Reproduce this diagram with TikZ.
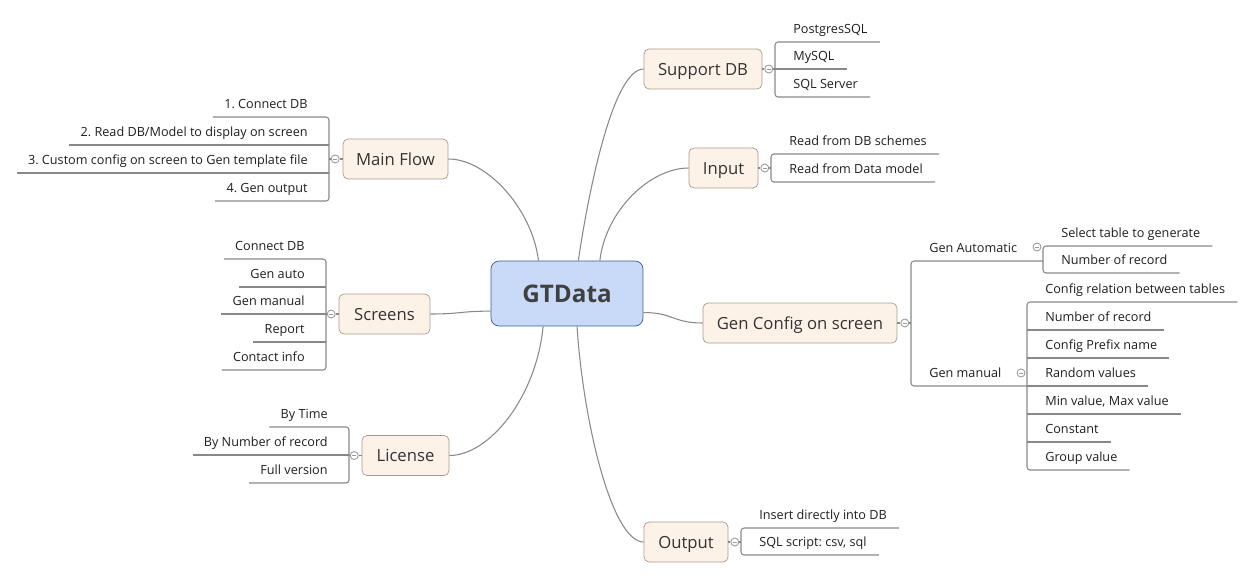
\documentclass[tikz,border=0pt]{standalone}
\usepackage{fontspec}
\setmainfont{Open Sans}
\usetikzlibrary{positioning}

\definecolor{linegray}{HTML}{888888}
\definecolor{foldgray}{HTML}{9A9A9A}
\definecolor{corefill}{HTML}{C9DAF8}
\definecolor{coreline}{HTML}{3D5A8A}
\definecolor{coretext}{HTML}{404040}
\definecolor{topicfill}{HTML}{FDF2E8}
\definecolor{topicline}{HTML}{A89B8E}
\definecolor{topictext}{HTML}{333333}
\definecolor{leaftext}{HTML}{1E1E1E}

\newcommand{\leaffont}{\fontsize{7.2}{8.6}\selectfont}
\frenchspacing

\begin{document}
\begin{tikzpicture}[x=0.02cm, y=-0.02cm]
      \tikzset{
        core/.style={draw=coreline, fill=corefill, rounded corners=0.16cm,
          minimum width=3.04cm, minimum height=1.3cm, text=coretext,
          text height=0.4cm, text depth=0.04cm,
          font=\fontsize{13.8}{16}\selectfont\bfseries},
        topic/.style={draw=topicline, fill=topicfill, rounded corners=0.1cm,
          minimum height=0.8cm, inner xsep=0.2cm, text=topictext,
          text height=0.3cm, text depth=0.06cm,
          font=\fontsize{9.5}{11}\selectfont},
        fold/.style={circle, draw=foldgray, fill=white, minimum size=0.16cm,
          inner sep=0pt, line width=0.5pt,
          path picture={\draw[foldgray, line width=0.5pt]
            ([xshift=0.045cm]path picture bounding box.west) --
            ([xshift=-0.045cm]path picture bounding box.east);}},
        rleaf/.style={anchor=south west, inner xsep=0.24cm, inner ysep=0pt,
          text height=0.2cm, text depth=0.17cm, text=leaftext, font=\leaffont,
          execute at begin node=\hspace*{0.12cm}},
        lleaf/.style={anchor=south east, inner xsep=0.22cm, inner ysep=0pt,
          text height=0.2cm, text depth=0.17cm, text=leaftext, font=\leaffont,
          execute at end node=\hspace*{0.2cm}},
        branch/.style={draw=linegray, line width=0.6pt},
        bracket/.style={branch, rounded corners=0.06cm},
      }
      \useasboundingbox (0,0) rectangle (1256,578);

      % centre and main topics
      \node[core] (gt) at (567,293.5) {GTData};
      \node[topic, minimum width=2.36cm] (sdb) at (703,69) {Support DB};
      \node[topic, minimum width=1.38cm] (inp) at (723.5,168) {Input};
      \node[topic, minimum width=3.88cm] (cfg) at (800,323) {Gen Config on screen};
      \node[topic, minimum width=1.68cm] (out) at (686,542) {Output};
      \node[topic, minimum width=2.1cm] (flow) at (395.5,159) {Main Flow};
      \node[topic, minimum width=1.82cm] (scr) at (384.5,314) {Screens};
      \node[topic, minimum width=1.74cm] (lic) at (405.5,455.5) {License};

      \draw[branch]
        (gt.71) .. controls +(12,-81) and +(-29,0) .. (sdb.west)
        (gt.45) .. controls +(6,-51) and +(-38,0) .. (inp.west)
        (gt.346) .. controls +(30,0) and +(-30,0) .. (cfg.west)
        (gt.287) .. controls +(6,94) and +(-32,0) .. (out.west)
        (gt.131) .. controls +(-6,-51) and +(39,0) .. (flow.east)
        (gt.193) .. controls +(-30,0) and +(30,0) .. (scr.east)
        (gt.234) .. controls +(-7,71) and +(40,0) .. (lic.east);

      % Support DB
      \node[fold, right=0.04cm of sdb] (fsdb) {};
      \node[rleaf] (pg) at (775,42) {PostgresSQL};
      \node[rleaf] (my) at (775,69) {MySQL};
      \node[rleaf] (ss) at (775,97) {SQL Server};
      \draw[branch] (sdb) -- (fsdb);
      \draw[bracket] (pg.south east) -- (pg.south west) -- (ss.south west) -- (ss.south east);
      \draw[branch] (fsdb) -- (my.south west) -- (my.south east);

      % Input
      \node[fold, right=0.04cm of inp] (finp) {};
      \node[rleaf] (rdb) at (771,154) {Read from DB schemes};
      \node[rleaf] (rdm) at (771,182) {Read from Data model};
      \draw[branch] (inp) -- (finp);
      \draw[bracket] (rdb.south east) -- (rdb.south west) -- (rdm.south west) -- (rdm.south east);
      \draw[branch] (finp) -- (finp -| rdb.south west);

      % Gen Config on screen
      \node[fold, right=0.06cm of cfg] (fcfg) {};
      \node[rleaf] (gauto) at (911,261) {Gen Automatic};
      \node[rleaf] (gman) at (911,386) {Gen manual};
      \node[fold] (fauto) at (1037,247) {};
      \node[fold] (fman) at (1021,373) {};
      \node[rleaf] (sel) at (1043,246) {Select table to generate};
      \node[rleaf] (anum) at (1043,273) {Number of record};
      \node[rleaf] (rel) at (1027,302) {Config relation between tables};
      \node[rleaf] (mnum) at (1027,330) {Number of record};
      \node[rleaf] (pre) at (1027,358) {Config Prefix name};
      \node[rleaf] (rnd) at (1027,386) {Random values};
      \node[rleaf] (mm) at (1027,414) {Min value, Max value};
      \node[rleaf] (con) at (1027,442) {Constant};
      \node[rleaf] (grp) at (1027,470) {Group value};
      \draw[branch] (cfg) -- (fcfg);
      \draw[branch] (fcfg) -- (fcfg -| gauto.south west);
      \draw[bracket] (gauto.south west -| sel.south west) -- (gauto.south west)
        -- (gman.south west) -- (gman.south west -| rnd.south west);
      \draw[bracket] (sel.south east) -- (sel.south west) -- (anum.south west) -- (anum.south east);
      \draw[bracket] (rel.south east) -- (rel.south west) -- (grp.south west) -- (grp.south east);
      \draw[branch]
        (mnum.south west) -- (mnum.south east)
        (pre.south west) -- (pre.south east)
        (rnd.south west) -- (rnd.south east)
        (mm.south west) -- (mm.south east)
        (con.south west) -- (con.south east);

      % Output
      \node[fold, right=0.04cm of out] (fout) {};
      \node[rleaf] (ins) at (741,528) {Insert directly into DB};
      \node[rleaf] (sqls) at (741,555) {SQL script: csv, sql};
      \draw[branch] (out) -- (fout);
      \draw[bracket] (ins.south east) -- (ins.south west) -- (sqls.south west) -- (sqls.south east);
      \draw[branch] (fout) -- (fout -| ins.south west);

      % Main Flow
      \node[fold, left=0.06cm of flow] (fflow) {};
      \node[lleaf] (st1) at (329,117) {1. Connect DB};
      \node[lleaf] (st2) at (329,145) {2. Read DB/Model to display on screen};
      \node[lleaf] (st3) at (329,173) {3. Custom config on screen to Gen template file};
      \node[lleaf] (st4) at (329,201) {4. Gen output};
      \draw[branch] (flow) -- (fflow);
      \draw[bracket] (st1.south west) -- (st1.south east) -- (st4.south east) -- (st4.south west);
      \draw[branch]
        (st2.south west) -- (st2.south east)
        (st3.south west) -- (st3.south east)
        (fflow) -- (fflow -| st1.south east);

      % Screens
      \node[fold, left=0.06cm of scr] (fscr) {};
      \node[lleaf] (sc1) at (326,259) {Connect DB};
      \node[lleaf] (sc2) at (326,287) {Gen auto};
      \node[lleaf] (sc3) at (326,314) {Gen manual};
      \node[lleaf] (sc4) at (326,342) {Report};
      \node[lleaf] (sc5) at (326,370) {Contact info};
      \draw[branch] (scr) -- (fscr);
      \draw[bracket] (sc1.south west) -- (sc1.south east) -- (sc5.south east) -- (sc5.south west);
      \draw[branch]
        (sc2.south west) -- (sc2.south east)
        (sc3.south west) -- (sc3.south east)
        (sc4.south west) -- (sc4.south east)
        (fscr) -- (fscr -| sc1.south east);

      % License
      \node[fold, left=0.06cm of lic] (flic) {};
      \node[lleaf] (li1) at (349,427) {By Time};
      \node[lleaf] (li2) at (349,455) {By Number of record};
      \node[lleaf] (li3) at (349,483) {Full version};
      \draw[branch] (lic) -- (flic);
      \draw[bracket] (li1.south west) -- (li1.south east) -- (li3.south east) -- (li3.south west);
      \draw[branch]
        (li2.south west) -- (li2.south east)
        (flic) -- (flic -| li1.south east);
    \end{tikzpicture}
\end{document}
